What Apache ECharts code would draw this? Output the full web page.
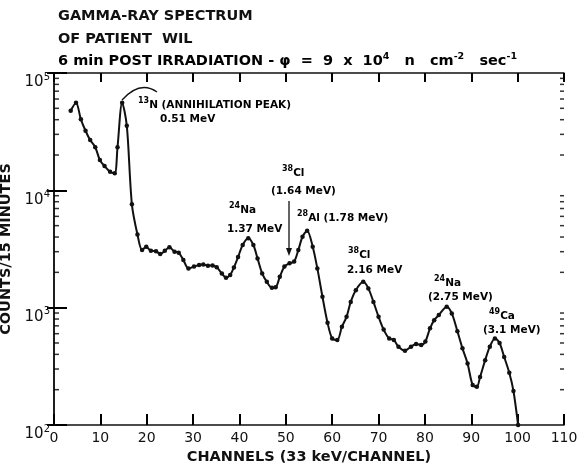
<!DOCTYPE html>
<html>
<head>
<meta charset="utf-8">
<script src="https://cdn.jsdelivr.net/npm/echarts@6/dist/echarts.min.js"></script>
<style>
  html, body { margin: 0; padding: 0; background: #fff; }
  #chart { width: 577px; height: 463px; }
</style>
</head>
<body>
<div id="chart"></div>
<script>
// channel number of each measured point
const channels = [3.6, 4.75, 5.8, 6.8, 7.8, 8.9, 9.9, 10.9, 12.1, 13.1, 13.7, 14.7, 15.7, 16.8,
  18.0, 19.0, 19.9, 20.9, 22.0, 22.9, 23.9, 24.9, 26.0, 26.9, 27.9, 29.0, 30.2, 31.3, 32.2,
  33.2, 34.2, 35.1, 36.2, 37.1, 38.0, 38.8, 39.7, 40.7, 41.9, 43.0, 43.9, 44.9, 45.9, 47.0,
  47.8, 48.7, 49.7, 50.8, 51.8, 52.7, 53.6, 54.6, 55.8, 56.8, 57.9, 59.0, 60.0, 61.1, 62.1,
  63.1, 64.0, 65.1, 66.7, 67.8, 68.9, 70.0, 71.1, 72.3, 73.3, 74.3, 75.7, 77.0, 78.1, 79.2,
  80.1, 81.1, 82.0, 83.0, 84.7, 85.8, 87.0, 88.1, 89.2, 90.3, 91.2, 91.9, 93.0, 94.0, 95.1,
  96.1, 97.1, 98.2, 99.1, 100.1];
// counts per 15 minutes
const counts = [47700, 55800, 40300, 32200, 26800, 23300, 18100, 16100, 14400, 14000, 23300, 55800, 35600, 7600,
  4200, 3100, 3300, 3050, 3020, 2870, 3050, 3270, 3000, 2940, 2550, 2160, 2240, 2310, 2330,
  2280, 2290, 2210, 1960, 1800, 1900, 2200, 2700, 3420, 3900, 3420, 2630, 1960, 1660, 1480,
  1490, 1830, 2240, 2390, 2470, 3100, 4020, 4530, 3310, 2160, 1240, 743, 547, 530, 688,
  836, 1120, 1410, 1660, 1460, 1120, 836, 650, 545, 530, 465, 430, 465, 490, 480,
  515, 667, 783, 865, 1020, 894, 631, 450, 335, 219, 212, 257, 357, 465, 547,
  500, 380, 279, 195, 100];
const yMinorTicks = [200, 300, 400, 500, 600, 700, 800, 900, 2000, 3000, 4000, 5000, 6000, 7000, 8000, 9000,
  20000, 30000, 40000, 50000, 60000, 70000, 80000, 90000];

const FONT = 'DejaVu Sans';
const INK = '#111';
const sup = { fontFamily: FONT, fontWeight: 'bold', fontSize: 8, lineHeight: 14, verticalAlign: 'top', color: INK };
const base = { fontFamily: FONT, fontWeight: 'bold', fontSize: 10.5, lineHeight: 14, verticalAlign: 'bottom', color: INK };

function note(x, y, text) {
  return {
    type: 'text', x: x, y: y,
    style: { text: text, rich: { s: sup, b: base }, verticalAlign: 'middle' }
  };
}

// minor log ticks drawn as thin rects placed through the axes
function minorTicks(xValue, size, offset) {
  return {
    type: 'scatter', silent: true, clip: false, z: 10,
    data: yMinorTicks.map(function (v) { return [xValue, v]; }),
    symbol: 'rect', symbolSize: size, symbolOffset: offset,
    itemStyle: { color: '#000' }
  };
}

const frameLine = { show: true, lineStyle: { color: INK, width: 1.5 } };
const tickStyle = { color: '#000', width: 2 };

var myChart = echarts.init(document.getElementById('chart'));

myChart.setOption({
  animation: false,
  backgroundColor: '#fff',
  grid: { left: 54, right: 13, top: 73, bottom: 38, containLabel: false, outerBoundsMode: 'none' },
  xAxis: [
    {
      type: 'value', min: 0, max: 110, interval: 10, position: 'bottom',
      name: 'CHANNELS (33 keV/CHANNEL)', nameLocation: 'middle', nameGap: 25,
      nameTextStyle: { fontFamily: FONT, fontSize: 14.5, color: INK, fontWeight: 'bold' },
      axisLine: frameLine,
      splitLine: { show: false },
      axisTick: { show: true, inside: true, length: 11, lineStyle: tickStyle },
      axisLabel: { fontFamily: FONT, fontSize: 14, color: INK, margin: 6 }
    },
    {
      type: 'value', min: 0, max: 110, interval: 10, position: 'top',
      axisLine: frameLine,
      splitLine: { show: false },
      axisTick: { show: true, inside: true, length: 9, lineStyle: tickStyle },
      axisLabel: { show: false }
    }
  ],
  yAxis: [
    {
      type: 'log', min: 100, max: 100000, logBase: 10, position: 'left',
      name: 'COUNTS/15 MINUTES', nameLocation: 'middle', nameGap: 24, nameRotate: 90,
      nameTextStyle: { fontFamily: FONT, fontSize: 14.5, color: INK, fontWeight: 'bold' },
      axisLine: frameLine,
      splitLine: { show: false },
      axisTick: { show: true, inside: true, length: 13, lineStyle: tickStyle },
      axisLabel: {
        margin: 4,
        padding: [16, 0, 0, 0],
        formatter: function (v) {
          return '{b|10}{s|' + Math.round(Math.log10(v)) + '}';
        },
        rich: {
          b: { fontFamily: FONT, fontSize: 15, lineHeight: 18, verticalAlign: 'bottom', color: INK },
          s: { fontFamily: FONT, fontSize: 10, lineHeight: 18, verticalAlign: 'top', color: INK }
        }
      }
    },
    {
      type: 'log', min: 100, max: 100000, logBase: 10, position: 'right',
      axisLine: frameLine,
      splitLine: { show: false },
      axisTick: { show: true, inside: true, length: 7, lineStyle: tickStyle },
      axisLabel: { show: false }
    }
  ],
  series: [
    {
      type: 'line',
      data: channels.map(function (c, i) { return [c, counts[i]]; }),
      smooth: 0.3,
      symbol: 'circle', symbolSize: 4.5,
      itemStyle: { color: INK },
      lineStyle: { color: INK, width: 2 },
      z: 3
    },
    minorTicks(0, [5, 1.5], [2.5, 0]),
    minorTicks(110, [4, 1.5], [-2, 0])
  ],
  graphic: [
    { type: 'text', x: 58, y: 16, style: { text: 'GAMMA-RAY SPECTRUM', font: 'bold 14.5px "DejaVu Sans"', fill: INK, verticalAlign: 'middle' } },
    { type: 'text', x: 58, y: 39, style: { text: 'OF PATIENT  WIL', font: 'bold 14.5px "DejaVu Sans"', fill: INK, verticalAlign: 'middle' } },
    {
      type: 'text', x: 58, y: 60,
      style: {
        text: '{b|6 min POST IRRADIATION - φ  =  9  x  10}{s|4}{b|   n   cm}{s|-2}{b|   sec}{s|-1}',
        verticalAlign: 'middle',
        rich: {
          b: { fontFamily: FONT, fontWeight: 'bold', fontSize: 14.5, lineHeight: 17, verticalAlign: 'bottom', color: INK },
          s: { fontFamily: FONT, fontWeight: 'bold', fontSize: 9.5, lineHeight: 17, verticalAlign: 'top', color: INK }
        }
      }
    },
    note(138, 104, '{s|13}{b|N (ANNIHILATION PEAK)}'),
    note(160, 118, '{b|0.51 MeV}'),
    { type: 'bezierCurve', shape: { x1: 122, y1: 100, cpx1: 140, cpy1: 80, x2: 157, y2: 92 },
      style: { stroke: INK, lineWidth: 1.3, fill: null } },
    note(229, 209, '{s|24}{b|Na}'),
    note(227, 228, '{b|1.37 MeV}'),
    note(282, 172, '{s|38}{b|Cl}'),
    note(271, 190, '{b|(1.64 MeV)}'),
    { type: 'line', shape: { x1: 289, y1: 201, x2: 289, y2: 250 }, style: { stroke: INK, lineWidth: 1.3 } },
    { type: 'polygon', shape: { points: [[286, 248], [292, 248], [289, 256]] }, style: { fill: INK } },
    note(297, 217, '{s|28}{b|Al (1.78 MeV)}'),
    note(348, 254, '{s|38}{b|Cl}'),
    note(347, 269, '{b|2.16 MeV}'),
    note(434, 282, '{s|24}{b|Na}'),
    note(428, 296, '{b|(2.75 MeV)}'),
    note(489, 315, '{s|49}{b|Ca}'),
    note(483, 329, '{b|(3.1 MeV)}')
  ]
});
</script>
</body>
</html>
